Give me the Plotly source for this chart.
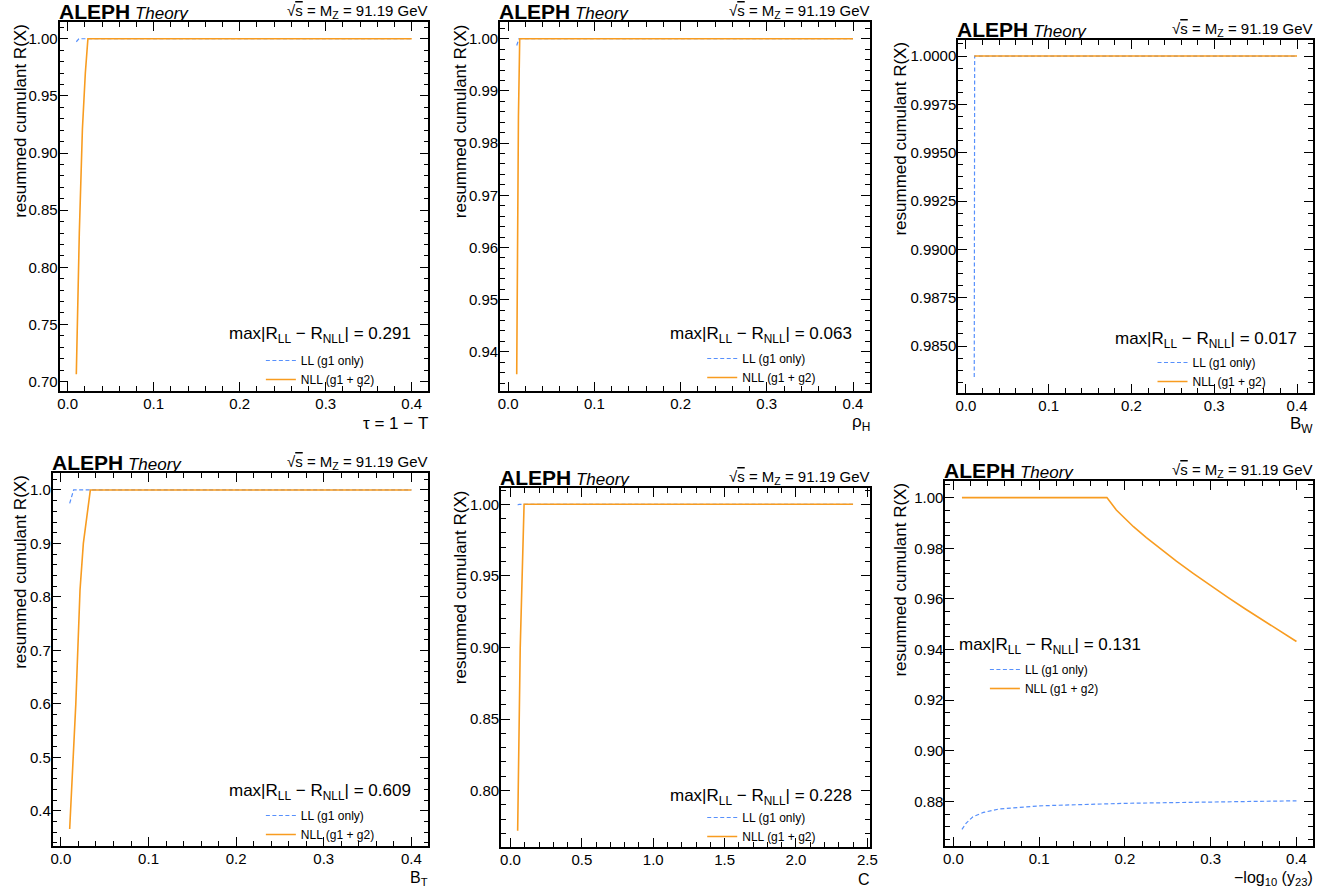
import plotly.graph_objects as go

W, H = 1343, 890

# ---------------- data ----------------
tau_x_ll = [0.010, 0.013, 0.400]
tau_ll = [0.9974, 1.0000, 1.0000]
tau_x_nll = [0.010, 0.0135, 0.0171, 0.0205, 0.0235, 0.400]
tau_nll = [0.7064, 0.830, 0.921, 0.970, 1.000, 1.000]

rho_x_ll = [0.010, 0.0125, 0.400]
rho_ll = [0.9987, 1.0000, 1.0000]
rho_x_nll = [0.010, 0.0120, 0.0135, 0.400]
rho_nll = [0.9357, 0.985, 1.000, 1.000]

bw_x_ll = [0.010, 0.0105, 0.400]
bw_ll = [0.9834, 1.0000, 1.0000]
bw_x_nll = [0.010, 0.400]
bw_nll = [1.0000, 1.0000]

bt_x_ll = [0.010, 0.0145, 0.400]
bt_ll = [0.975, 1.000, 1.000]
bt_x_nll = [0.010, 0.017, 0.0218, 0.0256, 0.0336, 0.400]
bt_nll = [0.366, 0.600, 0.813, 0.900, 1.000, 1.000]

c_x_ll = [0.05, 0.06, 2.40]
c_ll = [0.9995, 1.000, 1.000]
c_x_nll = [0.05, 0.068, 0.095, 2.40]
c_nll = [0.772, 0.900, 1.000, 1.000]

y23_x_ll = [0.010, 0.015, 0.0228, 0.035, 0.054, 0.100, 0.200, 0.300, 0.400]
y23_ll = [0.8690, 0.8715, 0.8740, 0.8757, 0.8771, 0.8783, 0.8793, 0.8799, 0.8803]
y23_x_nll = [0.010, 0.179, 0.190, 0.200, 0.210, 0.225, 0.240, 0.260, 0.280,
             0.300, 0.320, 0.340, 0.360, 0.380, 0.400]
y23_nll = [1.0000, 1.0000, 0.9951, 0.9917, 0.9885, 0.9842, 0.9801, 0.9749, 0.9700,
           0.9652, 0.9606, 0.9561, 0.9517, 0.9474, 0.9432]

max_diffs = ["0.291", "0.063", "0.017", "0.609", "0.228", "0.131"]
x_titles = ["τ = 1 − T", "ρ<sub>H</sub>", "B<sub>W</sub>", "B<sub>T</sub>", "C",
            "−log<sub>10</sub> (y<sub>23</sub>)"]
series_names = ["LL (g1 only)", "NLL (g1 + g2)"]

# ---------------- layout config ----------------
FONT = "Liberation Sans, Arial, Helvetica, sans-serif"
BLUE = "#5790fc"
ORANGE = "#f89c20"

panels = [
    dict(xl=tau_x_ll, yl=tau_ll, xn=tau_x_nll, yn=tau_nll,
         box=(57, 429, 22, 391), xd=0.1, xm=0.02, yd=0.05, ym=0.01, yf=".2f",
         ytx=17, leg=(300, 358), mt=(413, 335, "right")),
    dict(xl=rho_x_ll, yl=rho_ll, xn=rho_x_nll, yn=rho_nll,
         box=(501, 874, 22, 391), xd=0.1, xm=0.02, yd=0.01, ym=0.002, yf=".2f",
         ytx=461, leg=(745, 356), mt=(858, 335, "right")),
    dict(xl=bw_x_ll, yl=bw_ll, xn=bw_x_nll, yn=bw_nll,
         box=(963, 1321, 40, 393), xd=0.1, xm=0.02, yd=0.0025, ym=0.000625, yf=".4f",
         ytx=904, leg=(1199, 360), mt=(1307, 340, "right")),
    dict(xl=bt_x_ll, yl=bt_ll, xn=bt_x_nll, yn=bt_nll,
         box=(50, 429, 473, 846), xd=0.1, xm=0.02, yd=0.1, ym=0.02, yf=".1f",
         ytx=17, leg=(300, 813), mt=(413, 792, "right")),
    dict(xl=c_x_ll, yl=c_ll, xn=c_x_nll, yn=c_nll,
         box=(502, 874, 488, 847), xd=0.5, xm=0.1, yd=0.05, ym=0.01, yf=".2f",
         ytx=461, leg=(745, 815), mt=(858, 797, "right")),
    dict(xl=y23_x_ll, yl=y23_ll, xn=y23_x_nll, yn=y23_nll,
         box=(950, 1321, 481, 846), xd=0.1, xm=0.02, yd=0.02, ym=0.005, yf=".2f",
         ytx=904, leg=(1030, 667), mt=(962, 646, "left")),
]


def px_x(p):
    return p / W


def px_y(p):
    return 1 - p / H


def padded(vals):
    lo, hi = min(vals), max(vals)
    m = 0.05 * (hi - lo)
    return [lo - m, hi + m]


fig = go.Figure()
annotations = []

for i, p in enumerate(panels):
    k = "" if i == 0 else str(i + 1)
    xa, ya = "xaxis" + k, "yaxis" + k
    xr, yr = "x" + k, "y" + k
    lg = "legend" + k
    x0, x1, y0, y1 = p["box"]

    fig.add_trace(go.Scatter(x=p["xl"], y=p["yl"], mode="lines", name=series_names[0],
                             line=dict(color=BLUE, width=1.2, dash="4px,2.5px"),
                             xaxis=xr, yaxis=yr, legend=lg))
    fig.add_trace(go.Scatter(x=p["xn"], y=p["yn"], mode="lines", name=series_names[1],
                             line=dict(color=ORANGE, width=1.6),
                             xaxis=xr, yaxis=yr, legend=lg))

    common = dict(showline=True, linecolor="black", linewidth=1.6, mirror="allticks",
                  ticks="inside", ticklen=9, tickwidth=1, tickcolor="black",
                  showgrid=False, zeroline=False,
                  tickfont=dict(family=FONT, size=15, color="black"))
    fig.update_layout({
        xa: dict(common, domain=[px_x(x0), px_x(x1)], anchor=yr,
                 range=padded(p["xl"] + p["xn"]), dtick=p["xd"], tick0=0, tickformat=".1f",
                 ticklabelstandoff=-2,
                 minor=dict(dtick=p["xm"], tick0=0, ticks="inside", ticklen=5,
                            tickwidth=1, tickcolor="black")),
        ya: dict(common, domain=[px_y(y1), px_y(y0)], anchor=xr,
                 range=padded(p["yl"] + p["yn"]), dtick=p["yd"], tick0=0, tickformat=p["yf"],
                 ticklabelstandoff=-3,
                 minor=dict(dtick=p["ym"], tick0=0, ticks="inside", ticklen=5,
                            tickwidth=1, tickcolor="black")),
        lg: dict(x=px_x(p["leg"][0] - 40), y=px_y(p["leg"][1] - 12), xanchor="left",
                 yanchor="top", bgcolor="rgba(0,0,0,0)", borderwidth=0,
                 font=dict(family=FONT, size=12, color="black"), tracegroupgap=0),
    })

    # header
    annotations.append(dict(
        text="<span style='font-size:21px;font-weight:bold'>ALEPH</span> "
             "<span style='font-style:italic'>Theory</span>",
        x=px_x(x0), y=px_y(y0), xref="paper", yref="paper",
        xanchor="left", yanchor="bottom", yshift=-3, xshift=-3, showarrow=False,
        font=dict(family=FONT, size=17, color="black")))
    annotations.append(dict(
        text="√<span style='text-decoration:overline'>s</span> = M<sub>Z</sub> = 91.19 GeV",
        x=px_x(x1), y=px_y(y0), xref="paper", yref="paper",
        xanchor="right", yanchor="bottom", yshift=-1, xshift=2, showarrow=False,
        font=dict(family=FONT, size=15, color="black")))
    # axis titles
    if i < 3:
        annotations.append(dict(
            text=x_titles[i], x=px_x(x1), y=px_y(y1 + 32), xref="paper", yref="paper",
            xanchor="right", yanchor="middle", xshift=2, showarrow=False,
            font=dict(family=FONT, size=17, color="black")))
    else:
        annotations.append(dict(
            text=x_titles[i], x=px_x(x1), y=px_y(H), xref="paper", yref="paper",
            xanchor="right", yanchor="bottom", xshift=2, showarrow=False,
            font=dict(family=FONT, size=16, color="black")))
    annotations.append(dict(
        text="resummed cumulant R(X)", x=px_x(p["ytx"]), y=px_y(y0), xref="paper",
        yref="paper", xanchor="center", yanchor="top", textangle=-90, showarrow=False,
        font=dict(family=FONT, size=17, color="black")))
    # max difference label
    mx, my, anc = p["mt"]
    annotations.append(dict(
        text="max|R<sub>LL</sub> − R<sub>NLL</sub>| = " + max_diffs[i],
        x=px_x(mx), y=px_y(my), xref="paper", yref="paper",
        xanchor=anc, yanchor="middle", showarrow=False,
        font=dict(family=FONT, size=17, color="black")))

fig.update_layout(
    width=W, height=H, margin=dict(l=0, r=0, t=0, b=0),
    paper_bgcolor="white", plot_bgcolor="white",
    font=dict(family=FONT, color="black"),
    annotations=annotations,
)

fig.write_html("out.html")
